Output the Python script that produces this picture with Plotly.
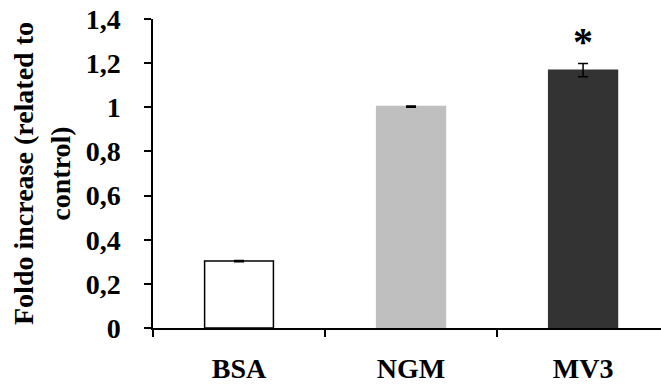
import plotly.graph_objects as go

categories = ["BSA", "NGM", "MV3"]
values = [0.303, 1.003, 1.168]
errors = [0.003, 0.003, 0.03]
y_ticks = [0, 0.2, 0.4, 0.6, 0.8, 1.0, 1.2, 1.4]

bar_colors = ["#FFFFFF", "#BFBFBF", "#333333"]
line_colors = ["#000000", "#BFBFBF", "#333333"]
FONT = "'Times New Roman', 'Liberation Serif', 'DejaVu Serif', serif"

def bold_font(size):
    return dict(family=FONT, size=size, color="black", weight="bold")

fig = go.Figure()
fig.add_trace(go.Bar(
    x=categories, y=values, width=0.4,
    marker=dict(color=bar_colors, line=dict(color=line_colors, width=1.5)),
    error_y=dict(type="data", array=errors, visible=True, color="black",
                 thickness=1.5, width=5),
    showlegend=False,
))

fig.add_annotation(x=categories[2], y=values[2] + errors[2], xref="x", yref="y",
                   text="*", showarrow=False, yanchor="bottom", yshift=-2,
                   font=bold_font(40))

fig.update_layout(
    width=661, height=390,
    margin=dict(l=153, r=0, t=19, b=62, pad=0),
    paper_bgcolor="white", plot_bgcolor="white",
    separators=",.",
    font=bold_font(28),
    bargap=0.6,
)
fig.update_xaxes(
    type="category", range=[-0.5, 2.453],
    showline=True, linecolor="black", linewidth=1.5,
    ticks="outside", tickson="boundaries", ticklen=7, tickwidth=1.5, tickcolor="black",
    tickfont=bold_font(28),
    ticklabelstandoff=15,
    showgrid=False, zeroline=False,
)
fig.update_yaxes(
    range=[0, 1.4], tickvals=y_ticks,
    showline=True, linecolor="black", linewidth=1.5,
    ticks="outside", ticklen=7, tickwidth=1.5, tickcolor="black",
    tickfont=bold_font(28),
    ticklabelstandoff=18,
    showgrid=False, zeroline=False,
    title=dict(text="Foldo increase (related to<br>control)",
               font=bold_font(28), standoff=7),
)

fig.write_html("out.html")
